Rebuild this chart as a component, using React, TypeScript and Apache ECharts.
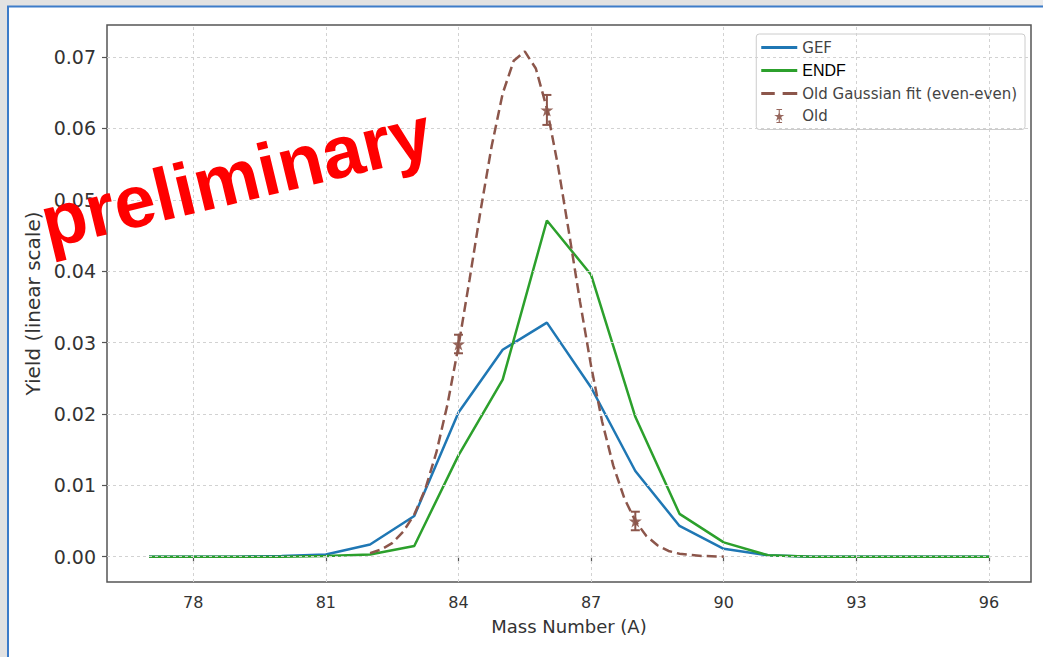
import React, { useEffect, useRef } from "react";
import * as echarts from "echarts";

// ---------- data ----------
const massNumbers = [77, 78, 79, 80, 81, 82, 83, 84, 85, 86, 87, 88, 89, 90, 91, 92, 93, 94, 95, 96];
const gefYield = [0, 0, 0, 0.0001, 0.0003, 0.0017, 0.0057, 0.0202, 0.029, 0.0328, 0.0237, 0.012, 0.0043, 0.0011, 0.0002, 0, 0, 0, 0, 0];
const endfYield = [0, 0, 0, 0, 0.0001, 0.0003, 0.0015, 0.0142, 0.0248, 0.0471, 0.0395, 0.0196, 0.006, 0.002, 0.0002, 0, 0, 0, 0, 0];

const gaussMass = [82, 82.25, 82.5, 82.75, 83, 83.25, 83.5, 83.75, 84, 84.25, 84.5, 84.75, 85, 85.25, 85.5, 85.75, 86, 86.25, 86.5, 86.75, 87, 87.25, 87.5, 87.75, 88, 88.25, 88.5, 88.75, 89, 89.5, 90];
const gaussYield = [0.0005, 0.001, 0.0019, 0.0035, 0.0059, 0.0095, 0.0146, 0.0213, 0.0295, 0.0388, 0.0485, 0.0575, 0.0649, 0.0695, 0.0708, 0.0684, 0.0628, 0.0548, 0.0454, 0.0357, 0.0267, 0.0189, 0.0128, 0.0082, 0.005, 0.0029, 0.0016, 0.0008, 0.0004, 0.0001, 0];

const oldMass = [84, 86, 88];
const oldYield = [0.0298, 0.0626, 0.005];
const oldErr = [0.0013, 0.0021, 0.0013];

const xTickValues = [78, 81, 84, 87, 90, 93, 96];
const yTickValues = [0, 0.01, 0.02, 0.03, 0.04, 0.05, 0.06, 0.07];

const seriesNames = ["GEF", "ENDF", "Old Gaussian fit (even-even)", "Old"];

// ---------- styles ----------
const BLUE = "#1f77b4";
const GREEN = "#2ca02c";
const BROWN = "#8c564b";
const FONT = "DejaVu Sans";
const STAR = "path://M50,0 L61,35 L98,35 L68,57 L79,91 L50,70 L21,91 L32,57 L2,35 L39,35 Z";
const STAR_ERR =
  "path://M46,0 L54,0 L54,100 L46,100 Z M30,0 L70,0 L70,7 L30,7 Z M30,93 L70,93 L70,100 L30,100 Z M50,18 L59,42 L86,42 L64,58 L72,84 L50,68 L28,84 L36,58 L14,42 L41,42 Z";
const SOLID_ICON = "path://M0,0 L32,0 L32,2.6 L0,2.6 Z";
const DASH_ICON = "path://M0,0 L12,0 L12,2.6 L0,2.6 Z M19,0 L32,0 L32,2.6 L19,2.6 Z";

export default function App() {
  const ref = useRef<HTMLDivElement>(null);

  useEffect(() => {
    if (!ref.current) return;
    const chart = echarts.init(ref.current, undefined, { renderer: "svg" });

    const gridLines = [
      ...xTickValues.map((v) => ({ xAxis: v })),
      ...yTickValues.map((v) => ({ yAxis: v })),
    ];

    const option: any = {
      animation: false,
      backgroundColor: "#ffffff",
      textStyle: { fontFamily: FONT },
      grid: {
        left: 107,
        right: 12,
        top: 25,
        bottom: 75,
        show: true,
        borderColor: "#555555",
        borderWidth: 1.5,
        backgroundColor: "transparent",
        containLabel: false,
        outerBoundsMode: "none",
      },
      xAxis: {
        type: "value",
        min: 76.05,
        max: 96.95,
        name: "Mass Number (A)",
        nameLocation: "middle",
        nameGap: 35,
        nameTextStyle: { fontFamily: FONT, fontSize: 18, color: "#333" },
        axisLine: { show: false },
        axisTick: { show: true, customValues: xTickValues, length: 5, lineStyle: { color: "#555", width: 1.2 } },
        axisLabel: {
          customValues: xTickValues,
          margin: 12,
          fontFamily: FONT,
          fontSize: 16,
          color: "#333",
          formatter: (v: number) => String(v),
        },
        splitLine: { show: false },
      },
      yAxis: {
        type: "value",
        min: -0.00355,
        max: 0.0745,
        name: "Yield (linear scale)",
        nameLocation: "middle",
        nameGap: 58,
        nameTextStyle: { fontFamily: FONT, fontSize: 20, color: "#333" },
        axisLine: { show: false },
        axisTick: { show: true, customValues: yTickValues, length: 5, lineStyle: { color: "#555", width: 1.2 } },
        axisLabel: {
          customValues: yTickValues,
          margin: 11,
          fontFamily: FONT,
          fontSize: 19,
          color: "#333",
          formatter: (v: number) => v.toFixed(2),
        },
        splitLine: { show: false },
      },
      legend: {
        show: true,
        orient: "vertical",
        right: 18,
        top: 34,
        padding: [6, 8, 6, 5],
        itemWidth: 36,
        itemHeight: 14,
        itemGap: 7.5,
        borderColor: "#cccccc",
        borderWidth: 1,
        borderRadius: 3,
        backgroundColor: "rgba(255,255,255,0.85)",
        textStyle: { fontFamily: FONT, fontSize: 15, color: "#444" },
        data: [
          { name: seriesNames[0], icon: SOLID_ICON, itemStyle: { color: BLUE } },
          {
            name: seriesNames[1],
            icon: SOLID_ICON,
            itemStyle: { color: GREEN },
            textStyle: { color: "#000", fontFamily: "Liberation Sans", fontSize: 16 },
          },
          { name: seriesNames[2], icon: DASH_ICON, itemStyle: { color: BROWN } },
          { name: seriesNames[3], icon: STAR_ERR, itemStyle: { color: BROWN } },
        ],
      },
      graphic: [
        { type: "rect", shape: { x: 0, y: 0, width: 1043, height: 6 }, style: { fill: "#e2e2e2" }, silent: true },
        { type: "rect", shape: { x: 850, y: 0, width: 193, height: 5 }, style: { fill: "#ececec" }, silent: true },
        { type: "rect", shape: { x: 0, y: 0, width: 7, height: 657 }, style: { fill: "#e2e2e2" }, silent: true },
        { type: "line", shape: { x1: 7, y1: 6.5, x2: 1043, y2: 6.5 }, style: { stroke: "#3d7cc9", lineWidth: 2 }, silent: true },
        { type: "line", shape: { x1: 8, y1: 6, x2: 8, y2: 657 }, style: { stroke: "#3d7cc9", lineWidth: 2 }, silent: true },
        {
          type: "text",
          x: 236,
          y: 177,
          rotation: 0.236,
          z: 100,
          silent: true,
          style: {
            text: "preliminary",
            fill: "#ff0000",
            fontFamily: "Liberation Sans",
            fontWeight: "bold",
            fontSize: 74,
            align: "center",
            verticalAlign: "middle",
          },
        },
      ],
      series: [
        {
          name: "grid",
          type: "line",
          data: [],
          z: 0,
          silent: true,
          markLine: {
            silent: true,
            symbol: ["none", "none"],
            label: { show: false },
            emphasis: { disabled: true },
            lineStyle: { color: "#d2d2d2", width: 1, type: [3, 3] },
            data: gridLines,
          },
        },
        {
          name: seriesNames[0],
          type: "line",
          data: massNumbers.map((m, i) => [m, gefYield[i]]),
          symbol: "none",
          lineStyle: { color: BLUE, width: 2.5 },
          itemStyle: { color: BLUE },
          z: 3,
        },
        {
          name: seriesNames[1],
          type: "line",
          data: massNumbers.map((m, i) => [m, endfYield[i]]),
          symbol: "none",
          lineStyle: { color: GREEN, width: 2.5 },
          itemStyle: { color: GREEN },
          z: 4,
        },
        {
          name: seriesNames[2],
          type: "line",
          data: gaussMass.map((m, i) => [m, gaussYield[i]]),
          symbol: "none",
          smooth: false,
          lineStyle: { color: BROWN, width: 2.5, type: [10, 5] },
          itemStyle: { color: BROWN },
          z: 5,
        },
        {
          name: "Old error",
          type: "custom",
          z: 6,
          silent: true,
          data: oldMass.map((m, i) => [m, oldYield[i], oldErr[i]]),
          renderItem: (params: any, api: any) => {
            const x = api.value(0);
            const y = api.value(1);
            const e = api.value(2);
            const top = api.coord([x, y + e]);
            const bot = api.coord([x, y - e]);
            const cap = 4.5;
            const st = { stroke: BROWN, lineWidth: 2 };
            return {
              type: "group",
              children: [
                { type: "line", shape: { x1: top[0], y1: top[1], x2: bot[0], y2: bot[1] }, style: st },
                { type: "line", shape: { x1: top[0] - cap, y1: top[1], x2: top[0] + cap, y2: top[1] }, style: st },
                { type: "line", shape: { x1: bot[0] - cap, y1: bot[1], x2: bot[0] + cap, y2: bot[1] }, style: st },
              ],
            };
          },
        },
        {
          name: seriesNames[3],
          type: "scatter",
          z: 7,
          data: oldMass.map((m, i) => [m, oldYield[i]]),
          symbol: STAR,
          symbolSize: 13,
          itemStyle: { color: BROWN, opacity: 0.9 },
        },
      ],
    };

    chart.setOption(option);
    return () => chart.dispose();
  }, []);

  return (
    <div
      ref={ref}
      style={{ position: "fixed", left: 0, top: 0, width: 1043, height: 657 }}
    />
  );
}
